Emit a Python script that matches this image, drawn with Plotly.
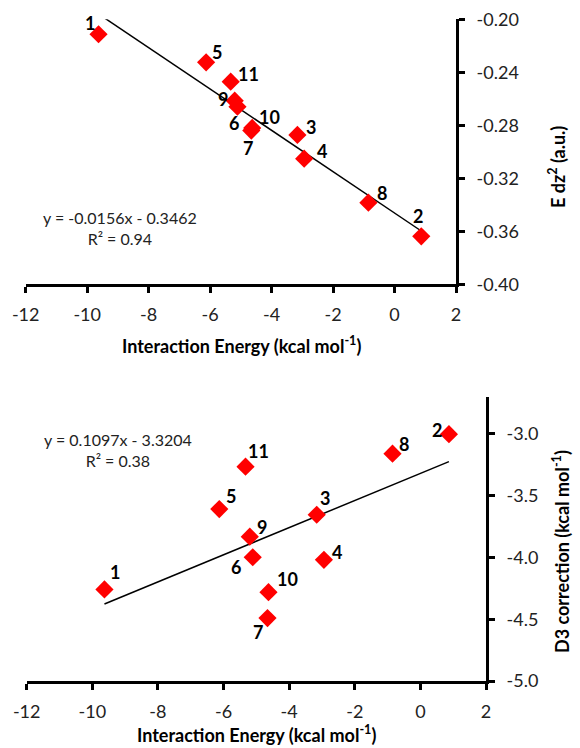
import numpy as np
import plotly.graph_objects as go

# ---------------- data ----------------
labels = ["1", "2", "3", "4", "5", "6", "7", "8", "9", "10", "11"]
interaction_energy = [-9.63, 0.87, -3.16, -2.94, -6.13, -5.11, -4.66, -0.85, -5.20, -4.63, -5.33]
e_dz2 = [-0.2113, -0.3638, -0.2873, -0.3052, -0.2325, -0.2660, -0.2840, -0.3384, -0.2614, -0.2820, -0.2471]
d3_correction = [-4.259, -3.003, -3.655, -4.020, -3.609, -3.999, -4.491, -3.161, -3.832, -4.281, -3.266]

fit_top = {"slope": -0.0156, "intercept": -0.3462, "r2": 0.94}
fit_bot = {"slope": 0.1097, "intercept": -3.3204, "r2": 0.38}

x_ticks = [-12, -10, -8, -6, -4, -2, 0, 2]
x_tick_text = ["-12", "-10", "-8", "-6", "-4", "-2", "0", "2"]
top_y_ticks = [-0.40, -0.36, -0.32, -0.28, -0.24, -0.20]
top_y_tick_text = ["-0.40", "-0.36", "-0.32", "-0.28", "-0.24", "-0.20"]
bot_y_ticks = [-5.0, -4.5, -4.0, -3.5, -3.0]
bot_y_tick_text = ["-5.0", "-4.5", "-4.0", "-3.5", "-3.0"]

# ---------------- style ----------------
W, H = 580, 748
FONT = "Lato"
RED = "#ff0000"

# label offsets in pixels (dx right, dy down) for each point label
top_offsets = {"1": (-9, -11), "2": (-3, -20), "3": (14, -8), "4": (18, -8), "5": (11, -10),
               "6": (-3, 16), "7": (-3, 17), "8": (14, -10), "9": (-12, -2), "10": (17, -11),
               "11": (18, -8)}
bot_offsets = {"1": (11, -17), "2": (-12, -4), "3": (8, -17), "4": (13, -8), "5": (12, -13),
               "6": (-17, 10), "7": (-10, 14), "8": (11, -10), "9": (12, -10), "10": (19, -13),
               "11": (13, -16)}

fig = go.Figure()

xmin, xmax = min(interaction_energy), max(interaction_energy)
xl = np.array([xmin, xmax])

# top panel
fig.add_trace(go.Scatter(x=xl, y=fit_top["slope"] * xl + fit_top["intercept"], mode="lines",
                         line=dict(color="black", width=1.5), xaxis="x", yaxis="y", hoverinfo="skip"))
fig.add_trace(go.Scatter(x=interaction_energy, y=e_dz2, mode="markers",
                         marker=dict(symbol="diamond", size=14, color=RED),
                         xaxis="x", yaxis="y"))
# bottom panel
fig.add_trace(go.Scatter(x=xl, y=fit_bot["slope"] * xl + fit_bot["intercept"], mode="lines",
                         line=dict(color="black", width=1.5), xaxis="x2", yaxis="y2", hoverinfo="skip"))
fig.add_trace(go.Scatter(x=interaction_energy, y=d3_correction, mode="markers",
                         marker=dict(symbol="diamond", size=14, color=RED),
                         xaxis="x2", yaxis="y2"))

annotations = []
for lab, xv, yv in zip(labels, interaction_energy, e_dz2):
    dx, dy = top_offsets[lab]
    annotations.append(dict(x=xv, y=yv, xref="x", yref="y", text=f"<b>{lab}</b>", showarrow=False,
                            xanchor="center", yanchor="middle",
                            xshift=dx, yshift=-dy, font=dict(family=FONT, size=18, color="black")))
for lab, xv, yv in zip(labels, interaction_energy, d3_correction):
    dx, dy = bot_offsets[lab]
    annotations.append(dict(x=xv, y=yv, xref="x2", yref="y2", text=f"<b>{lab}</b>", showarrow=False,
                            xanchor="center", yanchor="middle",
                            xshift=dx, yshift=-dy, font=dict(family=FONT, size=18, color="black")))


def px(x):
    return x / W


def py(y):
    return 1 - y / H


def fmt_eq(f):
    sign = "-" if f["intercept"] < 0 else "+"
    return f"y = {f['slope']:.4f}x {sign} {abs(f['intercept']):.4f}<br>R² = {f['r2']:.2f}"


def paper_note(x, y, text, size, angle=0, color="black"):
    return dict(x=px(x), y=py(y), xref="paper", yref="paper", text=text, showarrow=False,
                xanchor="center", yanchor="middle", align="center", textangle=angle,
                font=dict(family=FONT, size=size, color=color))


annotations += [
    paper_note(120, 228, fmt_eq(fit_top), 16, color="#222"),
    paper_note(118, 450, fmt_eq(fit_bot), 16, color="#222"),
    paper_note(241, 345, "<b>Interaction Energy (kcal mol<sup>-1</sup>)</b>", 18),
    paper_note(256, 734, "<b>Interaction Energy (kcal mol<sup>-1</sup>)</b>", 18),
    paper_note(557, 167, "<b>E dz<sup>2</sup> (a.u.)</b>", 18, angle=-90),
    paper_note(561, 552, "<b>D3 correction (kcal mol<sup>-1</sup>)</b>", 18, angle=-90),
]

axis_common = dict(showgrid=False, zeroline=False, showline=True, linecolor="black", linewidth=3,
                   ticks="outside", ticklen=6, tickwidth=3, tickcolor="black", automargin=False,
                   tickfont=dict(family=FONT, size=18, color="#222"))

fig.update_layout(
    width=W, height=H, margin=dict(l=0, r=0, t=0, b=0, autoexpand=False),
    paper_bgcolor="white", plot_bgcolor="white", showlegend=False,
    annotations=annotations,
    xaxis=dict(domain=[25.7 / W, 456 / W], anchor="y", range=[-12, 2], tickvals=x_ticks,
               ticktext=x_tick_text, ticklabelstandoff=6, **axis_common),
    yaxis=dict(domain=[py(284.3), py(19.3)], anchor="x", side="right", range=[-0.40, -0.20],
               tickvals=top_y_ticks, ticktext=top_y_tick_text, ticklabelstandoff=8, **axis_common),
    xaxis2=dict(domain=[26.7 / W, 486 / W], anchor="y2", range=[-12, 2], tickvals=x_ticks,
                ticktext=x_tick_text, ticklabelstandoff=6, **axis_common),
    yaxis2=dict(domain=[py(681), py(396.7)], anchor="x2", side="right", range=[-5.0, -2.7],
                tickvals=bot_y_ticks, ticktext=bot_y_tick_text, ticklabelstandoff=8, **axis_common),
)

fig.write_html("out.html", config={"displayModeBar": False},
               post_script="document.body.style.margin='0';document.body.style.overflow='hidden';")
